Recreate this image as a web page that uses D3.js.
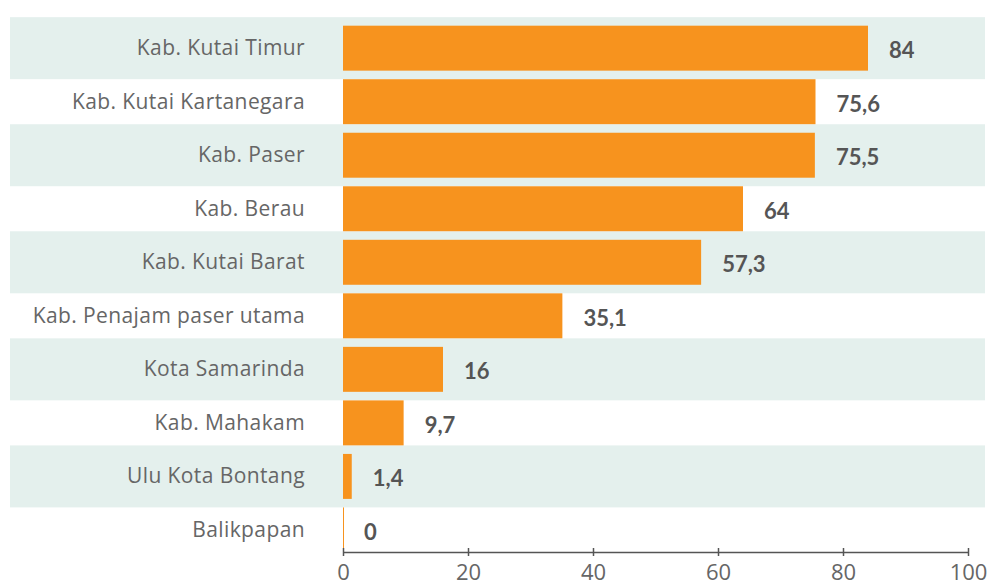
<!DOCTYPE html>
<html>
<head>
<meta charset="utf-8">
<script src="https://cdn.jsdelivr.net/npm/d3@7/dist/d3.min.js"></script>
<style>
  html, body { margin: 0; padding: 0; background: #fff; }
  svg { display: block; }
</style>
</head>
<body>
<svg id="chart" width="987" height="585"></svg>
<script>
const categories = [
  "Kab. Kutai Timur",
  "Kab. Kutai Kartanegara",
  "Kab. Paser",
  "Kab. Berau",
  "Kab. Kutai Barat",
  "Kab. Penajam paser utama",
  "Kota Samarinda",
  "Kab. Mahakam",
  "Ulu Kota Bontang",
  "Balikpapan"
];
const values = [84, 75.6, 75.5, 64, 57.3, 35.1, 16, 9.7, 1.4, 0];
const valueLabels = ["84", "75,6", "75,5", "64", "57,3", "35,1", "16", "9,7", "1,4", "0"];
const xTicks = [0, 20, 40, 60, 80, 100];

const svg = d3.select("#chart");
const catFont = "'Open Sans', Lato, sans-serif";
const valFont = "Lato, 'Open Sans', sans-serif";

const x = d3.scaleLinear().domain([0, 100]).range([343, 968]);
const y = d3.scaleBand().domain(categories).range([21.4, 556.7])
  .paddingInner(0.16).paddingOuter(0.08);

// alternating row backgrounds
svg.append("g").selectAll("rect")
  .data(categories.filter((d, i) => i % 2 === 0))
  .join("rect")
  .attr("x", 10)
  .attr("width", 975)
  .attr("y", d => y(d) + y.bandwidth() / 2 - 31)
  .attr("height", 62)
  .attr("fill", "#e4f0ed");

// bars
svg.append("g").selectAll("rect")
  .data(categories)
  .join("rect")
  .attr("x", x(0))
  .attr("y", d => y(d))
  .attr("height", y.bandwidth())
  .attr("width", (d, i) => Math.max(1, x(values[i]) - x(0)))
  .attr("fill", "#f7931e");

// category labels
svg.append("g").selectAll("text")
  .data(categories)
  .join("text")
  .attr("x", 305)
  .attr("y", d => y(d) + y.bandwidth() / 2 + 7)
  .attr("text-anchor", "end")
  .attr("font-family", catFont)
  .attr("font-size", 21)
  .attr("font-weight", 400)
  .attr("letter-spacing", 0.4)
  .attr("fill", "#666")
  .text(d => d);

// value labels
svg.append("g").selectAll("text")
  .data(categories)
  .join("text")
  .attr("x", (d, i) => x(values[i]) + 21)
  .attr("y", d => y(d) + y.bandwidth() / 2 + 10)
  .attr("font-family", valFont)
  .attr("font-weight", 700)
  .attr("font-size", 22)
  .attr("fill", "#555")
  .text((d, i) => valueLabels[i]);

// x axis
const axis = svg.append("g")
  .attr("transform", "translate(0,552)")
  .call(d3.axisBottom(x).tickValues(xTicks).tickSize(0).tickPadding(12).tickFormat(d3.format("d")));
axis.select(".domain").attr("stroke", "#555").attr("stroke-width", 1.5);
axis.selectAll(".tick").append("line")
  .attr("y1", -4).attr("y2", 4)
  .attr("stroke", "#555").attr("stroke-width", 1.5);
axis.selectAll(".tick text")
  .attr("font-family", catFont)
  .attr("font-size", 22)
  .attr("font-weight", 400)
  .attr("fill", "#666");
</script>
</body>
</html>
